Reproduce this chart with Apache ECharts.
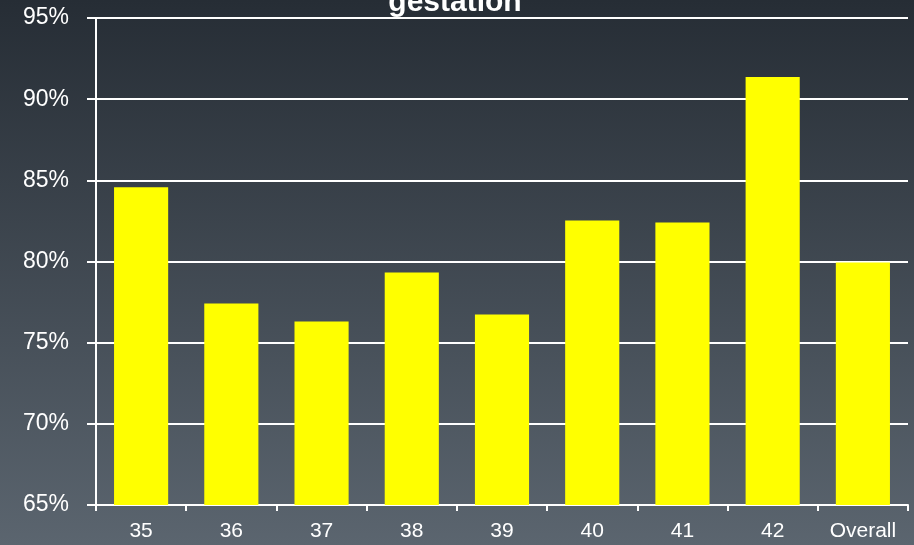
<!DOCTYPE html>
<html><head><meta charset="utf-8">
<script src="https://cdn.jsdelivr.net/npm/echarts@6/dist/echarts.min.js"></script>
<style>html,body{margin:0;padding:0;}#c{width:914px;height:545px;}</style>
</head><body><div id="c"></div>
<script>
const categories = ['35','36','37','38','39','40','41','42','Overall'];
const values = [84.57, 77.41, 76.30, 79.32, 76.73, 82.53, 82.40, 91.36, 79.94];
const yTicks = [65, 70, 75, 80, 85, 90, 95];
const titleText = 'gestation';

const chart = echarts.init(document.getElementById('c'));
chart.setOption({
  animation: false,
  backgroundColor: {
    type: 'linear', x: 0, y: 0, x2: 0, y2: 1,
    colorStops: [{offset: 0, color: '#262d35'}, {offset: 1, color: '#5b656f'}]
  },
  title: {
    text: titleText, left: 455, textAlign: 'center', top: -12, padding: 0,
    textStyle: {color: '#ffffff', fontFamily: 'Liberation Sans', fontWeight: 'bold', fontSize: 30}
  },
  grid: {left: 96, right: 6, top: 18, bottom: 40, containLabel: false},
  xAxis: {
    type: 'category', data: categories,
    axisLine: {lineStyle: {color: '#ffffff', width: 2}},
    axisTick: {show: true, interval: 0, length: 6, lineStyle: {color: '#ffffff', width: 2}},
    axisLabel: {interval: 0, color: '#ffffff', fontFamily: 'Liberation Sans', fontSize: 21, margin: 16}
  },
  yAxis: {
    type: 'value', min: yTicks[0], max: yTicks[yTicks.length - 1], interval: 5,
    axisLine: {show: true, lineStyle: {color: '#ffffff', width: 2}},
    axisTick: {show: true, length: 9, lineStyle: {color: '#ffffff', width: 2}},
    splitLine: {show: true, lineStyle: {color: '#ffffff', width: 2}},
    axisLabel: {color: '#ffffff', fontFamily: 'Liberation Sans', fontSize: 23, margin: 27,
      formatter: v => v + '%'}
  },
  series: [{
    type: 'bar', data: values, barCategoryGap: '40%',
    itemStyle: {color: '#ffff00'}
  }]
});
</script></body></html>
